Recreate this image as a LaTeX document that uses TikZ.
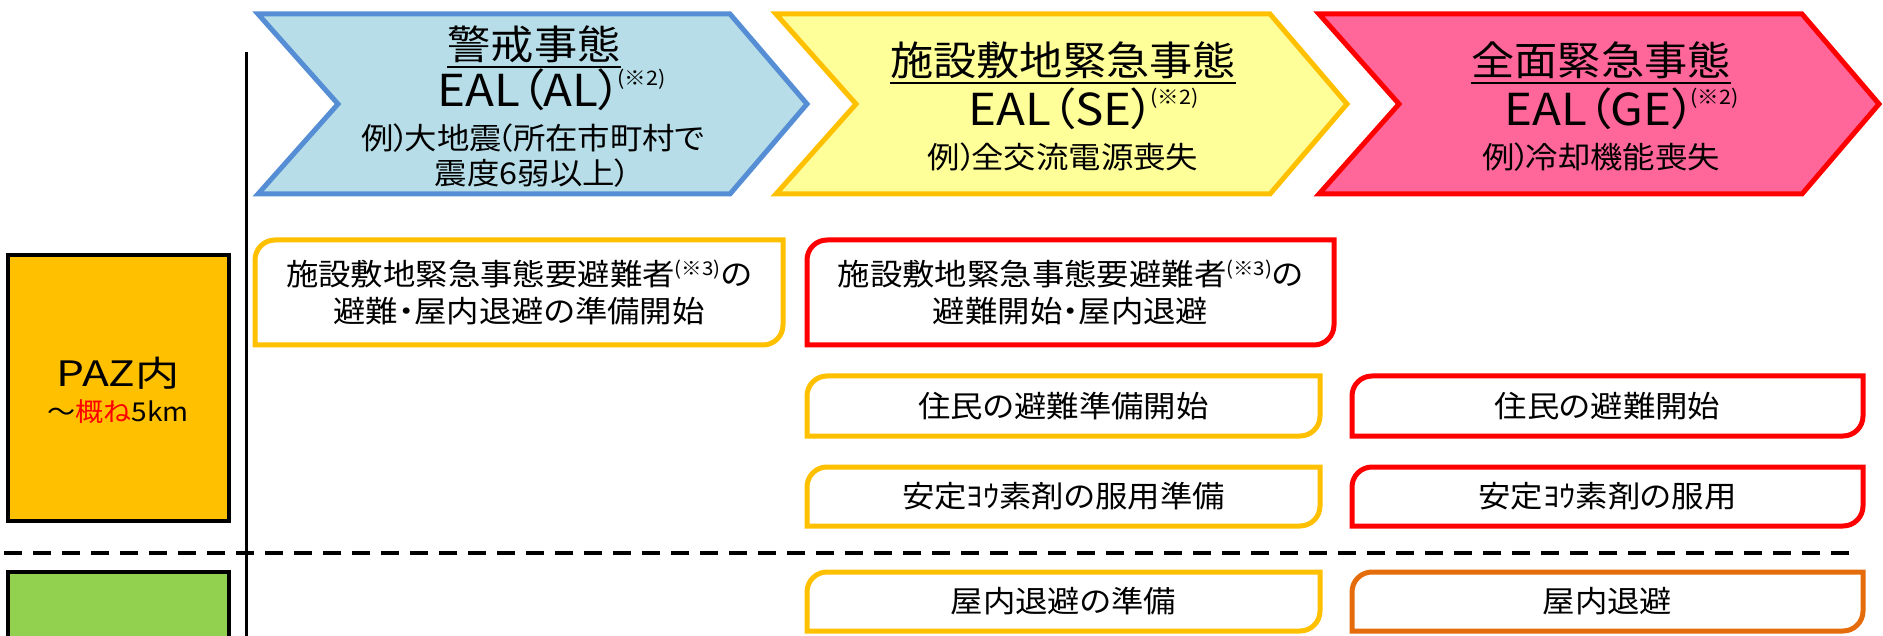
\documentclass[tikz,border=0pt]{standalone}
\usepackage{fontspec}
\setmainfont[RawFeature=+palt, FakeStretch=1.08]{Noto Sans CJK JP}
\definecolor{bluefill}{HTML}{B7DEE8}
\definecolor{blueline}{HTML}{558ED5}
\definecolor{yelfill}{HTML}{FFFF99}
\definecolor{yelline}{HTML}{FFC000}
\definecolor{pinkfill}{HTML}{FF6699}
\definecolor{redline}{HTML}{FF0000}
\definecolor{orgline}{HTML}{E46C0A}
\definecolor{pazfill}{HTML}{FFC000}
\definecolor{greenfill}{HTML}{92D050}
\tikzset{
  chevshape/.style={line width=5pt, line join=miter},
  boxline/.style={line width=5pt, fill=white},
  zonebox/.style={line width=4pt, draw=black},
  bodytext/.style={inner sep=0pt, align=center, font=\fontsize{30}{37}\selectfont},
  ttltext/.style={inner sep=0pt, font=\fontsize{40}{48}\selectfont},
  ealtext/.style={inner sep=0pt, anchor=base, font=\fontsize{44}{50}\selectfont},
  extext/.style={inner sep=0pt, font=\fontsize{30}{36}\selectfont},
  ulinestyle/.style={line width=2.5pt},
}
\newcommand\chevron[4]{%
  \draw[chevshape, fill=#3, draw=#4] (#1,-14) -- (#2,-14) -- (#2+77,-104) -- (#2,-194) -- (#1,-194) -- (#1+80,-104) -- cycle;}
\newcommand\diagbox[7]{%
  \draw[boxline, draw=#6] (#2,-#5) -- (#2,-#3-20) arc[start angle=180,end angle=90,radius=20pt] -- (#4,-#3) -- (#4,-#5+20) arc[start angle=0,end angle=-90,radius=20pt] -- cycle;
  \node[bodytext] (#1) at ({(#2+#4)/2},{-(#3+#5)/2}) {#7};}
\newcommand\supmark[3]{\raisebox{#1}{\fontsize{#3}{#3}\selectfont (※#2)}}
\newcommand\ealsup{\rlap{\kern-5pt\supmark{21pt}{2}{20}}}
\newcommand\tk{\kern-5pt}
\begin{document}
\begin{tikzpicture}[x=1pt,y=1pt]
\useasboundingbox (0,0) rectangle (1883,-636);
% zone boxes
\draw[zonebox, fill=pazfill] (8,-255) rectangle (229,-521);
\node[inner sep=0pt, font=\fontsize{35}{40}\selectfont] (paz) at (118,-373) {\scalebox{1.17}[1]{PAZ内}};
\node[inner sep=0pt, font=\fontsize{26}{30}\selectfont] (pazr) at (118,-412) {～\textcolor{red}{概ね}5km};
\draw[zonebox, fill=greenfill] (8,-572) rectangle (229,-700);
% separators
\coordinate (vtop) at (246,-52);
\coordinate (vbot) at (246,-636);
\draw[line width=3pt] (vtop) -- (vbot);
\coordinate (dl) at (4,-553);
\coordinate (dr) at (1858,-553);
\draw[line width=4pt, dash pattern=on 18pt off 11pt] (dl) -- (dr);
% chevrons
\chevron{258}{730}{bluefill}{blueline}
\chevron{776}{1270}{yelfill}{yelline}
\chevron{1319}{1802}{pinkfill}{redline}
% blue texts
\node[ttltext] (bt1) at (534,-44) {警戒事態};
\draw[ulinestyle] ([yshift=-4pt]bt1.south west) -- ([yshift=-4pt]bt1.south east);
\node[ealtext] (bt2) at (530,-107) {EAL（AL）\ealsup};
\node[extext] (bt3) at (533,-138) {例）\tk 大地震\tk（所在市町村で};
\node[extext] (bt4) at (533,-173) {震度6弱以上）};
% yellow texts
\node[ttltext] (yt1) at (1063,-60) {施設敷地緊急事態};
\draw[ulinestyle] ([yshift=-4pt]yt1.south west) -- ([yshift=-4pt]yt1.south east);
\node[ealtext] (yt2) at (1062,-126) {EAL（SE）\ealsup};
\node[extext] (yt3) at (1063,-157) {例）\tk 全交流電源喪失};
% pink texts
\node[ttltext] (pt1) at (1601,-60) {全面緊急事態};
\draw[ulinestyle] ([yshift=-4pt]pt1.south west) -- ([yshift=-4pt]pt1.south east);
\node[ealtext] (pt2) at (1600,-126) {EAL（GE）\ealsup};
\node[extext] (pt3) at (1601,-157) {例）\tk 冷却機能喪失};
% action boxes
\diagbox{ba}{255}{240}{783}{345}{yelline}{施設敷地緊急事態要避難者\supmark{10pt}{3}{19}の\\避難・屋内退避の準備開始}
\diagbox{bb}{807}{240}{1334}{345}{redline}{施設敷地緊急事態要避難者\supmark{10pt}{3}{19}の\\避難開始・屋内退避}
\diagbox{bc}{807}{376}{1320}{436}{yelline}{住民の避難準備開始}
\diagbox{bd}{1352}{376}{1863}{436}{redline}{住民の避難開始}
\diagbox{be}{807}{467}{1320}{526}{yelline}{安定ﾖｳ素剤の服用準備}
\diagbox{bf}{1352}{467}{1863}{526}{redline}{安定ﾖｳ素剤の服用}
\diagbox{bg}{807}{572}{1320}{631}{yelline}{屋内退避の準備}
\diagbox{bh}{1352}{572}{1863}{631}{orgline}{屋内退避}
\end{tikzpicture}
\end{document}
